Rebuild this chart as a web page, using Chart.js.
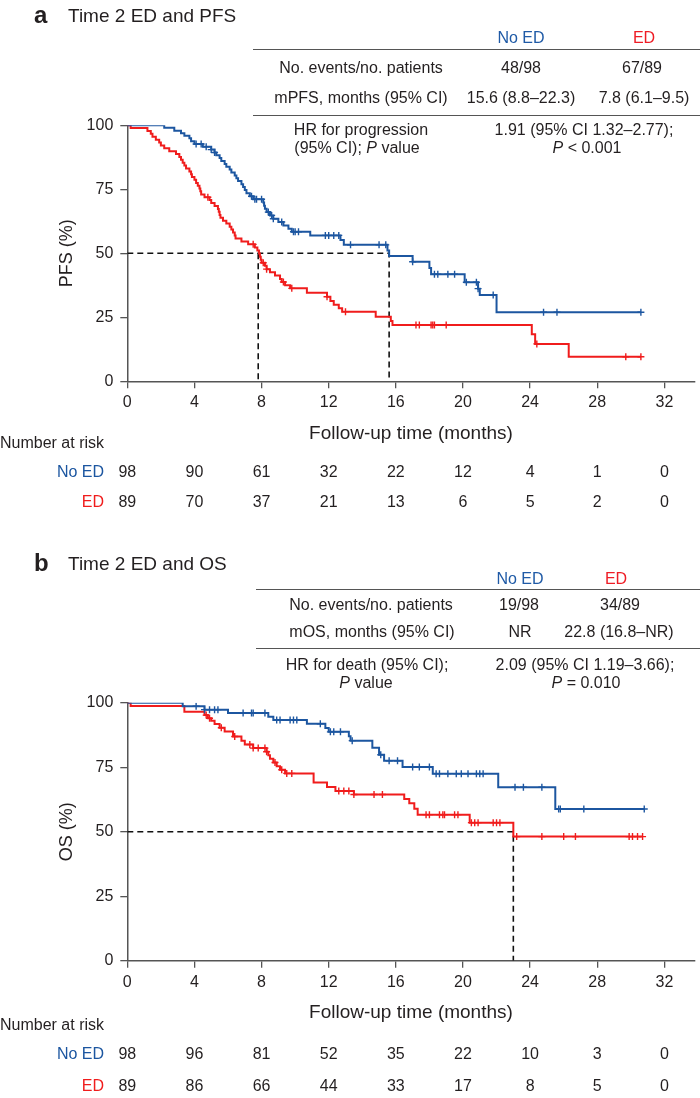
<!DOCTYPE html>
<html>
<head>
<meta charset="utf-8">
<script src="https://cdn.jsdelivr.net/npm/chart.js@4.4.1/dist/chart.umd.min.js"></script>
<style>
body { margin: 0; background: #fff; }
#page { position: relative; width: 700px; height: 1098px; overflow: hidden;
        font-family: 'Liberation Sans', Arial, sans-serif; color: #231f20; }
canvas { position: absolute; left: 0; }
.t { position: absolute; white-space: nowrap; font-size: 16px; line-height: 1; transform: translate(-50%, -50%); z-index: 2; }
.l { transform: translate(0, -50%); }
.head { font-size: 19px; }
.lab { font-size: 24px; font-weight: bold; }
.rule { position: absolute; height: 0; border-top: 1.5px solid #555; z-index: 2; }
.blue { color: #1f5aa6; }
.red { color: #ee1c25; }
</style>
</head>
<body>
<div id="page">
  <canvas id="pfsChart" width="700" height="540" style="top:0"></canvas>
  <canvas id="osChart" width="700" height="558" style="top:540px"></canvas>

  <!-- panel a -->
  <div class="t l lab" style="left:34px;top:15px">a</div>
  <div class="t l head" style="left:68px;top:15px">Time 2 ED and PFS</div>
  <div class="t blue" style="left:521px;top:38px">No ED</div>
  <div class="t red" style="left:644px;top:38px">ED</div>
  <div class="rule" style="left:253px;top:49px;width:447px"></div>
  <div class="t" style="left:361px;top:68px">No. events/no. patients</div>
  <div class="t" style="left:521px;top:68px">48/98</div>
  <div class="t" style="left:642px;top:68px">67/89</div>
  <div class="t" style="left:361px;top:98px">mPFS, months (95% CI)</div>
  <div class="t" style="left:521px;top:98px">15.6 (8.8–22.3)</div>
  <div class="t" style="left:644px;top:98px">7.8 (6.1–9.5)</div>
  <div class="rule" style="left:253px;top:115px;width:447px"></div>
  <div class="t" style="left:361px;top:130px">HR for progression</div>
  <div class="t" style="left:357px;top:148px">(95% CI); <i>P</i> value</div>
  <div class="t" style="left:584px;top:130px">1.91 (95% CI 1.32–2.77);</div>
  <div class="t" style="left:587px;top:148px"><i>P</i> &lt; 0.001</div>

  <!-- panel b -->
  <div class="t l lab" style="left:34px;top:563px">b</div>
  <div class="t l head" style="left:68px;top:563px">Time 2 ED and OS</div>
  <div class="t blue" style="left:520px;top:579px">No ED</div>
  <div class="t red" style="left:616px;top:579px">ED</div>
  <div class="rule" style="left:256px;top:589px;width:444px"></div>
  <div class="t" style="left:371px;top:605px">No. events/no. patients</div>
  <div class="t" style="left:519px;top:605px">19/98</div>
  <div class="t" style="left:620px;top:605px">34/89</div>
  <div class="t" style="left:372px;top:632px">mOS, months (95% CI)</div>
  <div class="t" style="left:520px;top:632px">NR</div>
  <div class="t" style="left:619px;top:632px">22.8 (16.8–NR)</div>
  <div class="rule" style="left:256px;top:648px;width:444px"></div>
  <div class="t" style="left:367px;top:665px">HR for death (95% CI);</div>
  <div class="t" style="left:366px;top:683px"><i>P</i> value</div>
  <div class="t" style="left:585px;top:665px">2.09 (95% CI 1.19–3.66);</div>
  <div class="t" style="left:586px;top:683px"><i>P</i> = 0.010</div>
</div>

<script>
// axes
var xTicks = [0, 4, 8, 12, 16, 20, 24, 28, 32];
var yTicks = [0, 25, 50, 75, 100];

// PFS, No ED: event times (months) and survival (%) after each step
var pfsNoEdTime = [0, 2.2, 2.8, 3.2, 3.4, 3.7, 3.8, 4.0, 4.5, 5.0, 5.2, 5.3, 5.5, 5.6, 5.8, 5.9, 6.1, 6.2, 6.4, 6.5,
  6.6, 6.8, 6.9, 7.0, 7.1, 7.3, 7.5, 8.1, 8.15, 8.2, 8.3, 8.5, 8.7, 9.0, 9.3, 9.6, 9.8, 10.9, 12.7, 12.9,
  15.5, 15.6, 17.0, 18.0, 18.1, 20.1, 20.9, 21.0, 22.0, 30.6];
var pfsNoEdSurv = [100, 99.0, 97.9, 96.9, 95.9, 94.9, 93.8, 92.7, 91.6, 90.5, 89.4, 88.3, 87.2, 86.1, 84.9, 83.8, 82.7, 81.6, 80.4, 79.3,
  78.2, 77.0, 75.9, 74.7, 73.5, 72.3, 71.1, 69.8, 68.6, 67.4, 66.1, 64.8, 63.5, 62.2, 60.9, 59.6, 58.4, 57.0, 55.2, 53.3,
  51.1, 48.9, 46.7, 44.3, 41.8, 38.7, 36.2, 33.7, 27.0, 27.0];
var pfsNoEdCensor = [4.1, 4.4, 4.7, 5.0, 5.2, 7.4, 7.6, 7.7, 8.0, 8.4, 8.6, 8.7, 9.2, 9.9, 10.0, 10.2, 11.8, 12.0, 12.3, 12.6,
  13.3, 15.0, 15.4, 17.0, 18.3, 18.5, 19.1, 19.5, 20.2, 20.8, 20.9, 21.8, 24.8, 25.6, 30.6];

// PFS, ED
var pfsEdTime = [0, 0.2, 1.2, 1.4, 1.5, 1.7, 1.9, 2.0, 2.2, 2.5, 2.9, 3.1, 3.2, 3.3, 3.4, 3.5, 3.7, 3.8, 3.85, 4.0,
  4.1, 4.2, 4.3, 4.35, 4.4, 4.6, 4.9, 5.0, 5.2, 5.4, 5.45, 5.5, 5.55, 5.7, 5.9, 6.1, 6.2, 6.3, 6.4, 6.45,
  6.8, 7.2, 7.6, 7.75, 7.85, 7.9, 7.95, 8.0, 8.2, 8.3, 8.5, 8.8, 9.1, 9.2, 9.4, 9.7, 10.7, 11.9, 12.1, 12.3,
  12.6, 12.8, 14.8, 15.7, 15.8, 24.1, 24.3, 26.3, 30.6];
var pfsEdSurv = [100, 98.9, 97.8, 96.7, 95.5, 94.4, 93.3, 92.1, 91.0, 89.9, 88.8, 87.6, 86.5, 85.4, 84.3, 83.1, 82.0, 80.9, 79.8, 78.7,
  77.5, 76.4, 75.3, 74.2, 73.0, 71.9, 70.8, 69.6, 68.5, 67.3, 66.2, 65.0, 63.9, 62.7, 61.6, 60.4, 59.3, 58.1, 57.0, 55.8,
  54.6, 53.5, 52.3, 51.1, 49.9, 48.7, 47.5, 46.3, 45.1, 43.8, 42.6, 41.3, 40.0, 38.8, 37.5, 36.3, 34.6, 33.0, 31.4, 29.9,
  28.5, 27.2, 25.2, 23.6, 22.0, 18.4, 14.6, 9.6, 9.6];
var pfsEdCensor = [4.8, 7.5, 8.1, 8.3, 9.3, 9.8, 11.9, 13.0, 17.2, 17.4, 18.1, 18.2, 18.3, 19.0, 24.4, 29.7, 30.6];

// OS, No ED
var osNoEdTime = [0, 3.3, 4.6, 6.0, 8.4, 8.7, 10.7, 11.8, 12.0, 13.2, 13.3, 14.6, 15.0, 15.3, 16.4, 18.2, 22.1, 25.5, 30.8];
var osNoEdSurv = [100, 98.6, 97.3, 96.0, 94.6, 93.3, 91.8, 90.2, 88.7, 87.0, 85.3, 82.5, 79.8, 77.5, 75.1, 72.5, 67.2, 58.8, 58.8];
var osNoEdCensor = [4.1, 4.6, 4.9, 5.2, 5.4, 6.9, 7.4, 7.5, 8.2, 8.9, 9.1, 9.7, 9.9, 10.1, 11.5, 12.1, 12.3, 12.7, 13.4, 15.1,
  15.6, 16.1, 17.0, 17.4, 18.0, 18.4, 18.6, 19.1, 19.6, 19.9, 20.3, 20.8, 21.0, 21.2, 23.1, 23.6, 24.7, 25.7, 25.8, 27.2, 30.8];

// OS, ED
var osEdTime = [0, 0.2, 3.4, 4.6, 4.8, 5.0, 5.2, 5.5, 5.8, 6.3, 6.8, 7.0, 7.5, 8.3, 8.4, 8.5, 8.7, 8.9, 9.1, 9.4,
  11.1, 11.9, 12.4, 13.5, 16.5, 16.8, 17.1, 17.3, 20.4, 23.0, 30.7];
var osEdSurv = [100, 98.7, 96.5, 95.2, 94.0, 93.0, 91.7, 90.3, 88.8, 86.9, 85.3, 83.8, 82.4, 81.0, 79.6, 78.3, 76.8, 75.4, 74.0, 72.6,
  69.1, 67.3, 65.8, 64.4, 62.7, 61.0, 58.9, 56.6, 53.5, 48.1, 48.1];
var osEdCensor = [4.7, 4.9, 5.6, 6.4, 7.3, 7.5, 7.8, 8.2, 8.3, 8.8, 9.2, 9.5, 9.8, 12.6, 12.9, 13.2, 13.5, 14.7, 15.2, 17.8,
  18.0, 18.6, 18.8, 18.9, 19.5, 19.7, 20.5, 20.7, 20.9, 21.8, 22.0, 22.2, 23.2, 24.7, 26.0, 26.7, 29.9, 30.1, 30.4, 30.7];

// medians (months) marked with dashed lines
var pfsMedians = [15.6, 7.8];
var osMedians = [23.0];

// number at risk, at each x tick
var riskLabels = ['No ED', 'ED'];
var pfsRiskNoEd = [98, 90, 61, 32, 22, 12, 4, 1, 0];
var pfsRiskEd = [89, 70, 37, 21, 13, 6, 5, 2, 0];
var osRiskNoEd = [98, 96, 81, 52, 35, 22, 10, 3, 0];
var osRiskEd = [89, 86, 66, 44, 33, 17, 8, 5, 0];

var BLUE = '#1c56a0';
var RED = '#f01c1c';
var INK = '#231f20';
var AXIS = '#555555';
var FONT = "'Liberation Sans', Arial, sans-serif";

function pts(times, surv) {
  return times.map(function (t, i) { return { x: t, y: surv[i] }; });
}

// survival level of the step curve at time t
function survAt(times, surv, t) {
  var s = surv[0];
  for (var i = 0; i < times.length; i++) {
    if (times[i] <= t) s = surv[i];
  }
  return s;
}

function censorPts(cens, times, surv) {
  return cens.map(function (t) { return { x: t, y: survAt(times, surv, t) }; });
}

function medianLines(meds) {
  return meds.map(function (m, i) {
    var d = [{ x: m, y: 50 }, { x: m, y: 0 }];
    if (i === 0) d.unshift({ x: 0, y: 50 });
    return {
      data: d, borderColor: '#111', borderWidth: 1.6, borderDash: [6, 4],
      pointRadius: 0, stepped: false, order: 3
    };
  });
}

var riskPlugin = {
  id: 'riskTable',
  afterDraw: function (chart, args, o) {
    var ctx = chart.ctx, xs = chart.scales.x, a = chart.chartArea;
    ctx.save();
    ctx.textBaseline = 'middle';
    ctx.fillStyle = INK;
    // y axis title
    ctx.save();
    ctx.translate(67, (a.top + a.bottom) / 2);
    ctx.rotate(-Math.PI / 2);
    ctx.textAlign = 'center';
    ctx.font = '18px ' + FONT;
    ctx.fillText(o.yTitle, 0, 0);
    ctx.restore();
    // x axis title
    ctx.textAlign = 'center';
    ctx.font = '19px ' + FONT;
    ctx.fillText('Follow-up time (months)', (a.left + a.right) / 2, a.bottom + o.offsets[0]);
    ctx.font = '16px ' + FONT;
    ctx.textAlign = 'left';
    ctx.fillText('Number at risk', 0, a.bottom + o.offsets[1]);
    o.rows.forEach(function (row, r) {
      var y = a.bottom + o.offsets[2 + r];
      ctx.textAlign = 'right';
      ctx.fillStyle = row.color;
      ctx.fillText(riskLabels[r], 104, y);
      ctx.textAlign = 'center';
      ctx.fillStyle = INK;
      xTicks.forEach(function (t, i) {
        ctx.fillText(String(row.values[i]), xs.getPixelForValue(t), y);
      });
    });
    ctx.restore();
  }
};

function makeKm(id, cfg) {
  var h = document.getElementById(id).height;
  return new Chart(document.getElementById(id), {
    type: 'line',
    data: {
      datasets: [
        { data: censorPts(cfg.noEdCensor, cfg.noEdTime, cfg.noEdSurv), showLine: false, pointStyle: 'cross',
          pointRadius: 3.5, borderColor: BLUE, pointBorderWidth: 1.4, order: 0 },
        { data: censorPts(cfg.edCensor, cfg.edTime, cfg.edSurv), showLine: false, pointStyle: 'cross',
          pointRadius: 3.5, borderColor: RED, pointBorderWidth: 1.4, order: 0 },
        { data: pts(cfg.noEdTime, cfg.noEdSurv), stepped: true, borderColor: BLUE, borderWidth: 2,
          pointRadius: 0, order: 1 },
        { data: pts(cfg.edTime, cfg.edSurv), stepped: true, borderColor: RED, borderWidth: 2,
          pointRadius: 0, order: 1 }
      ].concat(medianLines(cfg.medians))
    },
    options: {
      responsive: false,
      animation: false,
      layout: { padding: { top: cfg.top, right: 5, bottom: 0, left: 0 } },
      plugins: {
        legend: { display: false },
        tooltip: { enabled: false },
        riskTable: { yTitle: cfg.yTitle, offsets: cfg.offsets, rows: [
          { color: BLUE, values: cfg.riskNoEd },
          { color: RED, values: cfg.riskEd }
        ] }
      },
      scales: {
        x: {
          type: 'linear', min: 0, max: 33.8,
          afterBuildTicks: function (s) { s.ticks = xTicks.map(function (v) { return { value: v }; }); },
          afterFit: function (s) { s.height = h - cfg.bottom; },
          grid: { display: true, drawOnChartArea: false, drawTicks: true, tickLength: 7, color: AXIS, lineWidth: 1.3 },
          border: { display: true, color: AXIS, width: 1.5 },
          ticks: { color: INK, font: { family: FONT, size: 16 }, padding: 5, maxRotation: 0 }
        },
        y: {
          min: 0, max: 100,
          afterBuildTicks: function (s) { s.ticks = yTicks.map(function (v) { return { value: v }; }); },
          afterFit: function (s) { s.width = 127.3; },
          grid: { display: true, drawOnChartArea: false, drawTicks: true, tickLength: 7, color: AXIS, lineWidth: 1.3 },
          border: { display: true, color: AXIS, width: 1.5 },
          ticks: { color: INK, font: { family: FONT, size: 16 }, padding: 7 }
        }
      }
    },
    plugins: [riskPlugin]
  });
}

makeKm('pfsChart', {
  top: 125.3, bottom: 381.3, yTitle: 'PFS (%)', offsets: [52, 62, 91, 121],
  noEdTime: pfsNoEdTime, noEdSurv: pfsNoEdSurv, noEdCensor: pfsNoEdCensor,
  edTime: pfsEdTime, edSurv: pfsEdSurv, edCensor: pfsEdCensor,
  medians: pfsMedians, riskNoEd: pfsRiskNoEd, riskEd: pfsRiskEd
});

makeKm('osChart', {
  top: 162.7, bottom: 420.7, yTitle: 'OS (%)', offsets: [52, 65, 94, 126],
  noEdTime: osNoEdTime, noEdSurv: osNoEdSurv, noEdCensor: osNoEdCensor,
  edTime: osEdTime, edSurv: osEdSurv, edCensor: osEdCensor,
  medians: osMedians, riskNoEd: osRiskNoEd, riskEd: osRiskEd
});
</script>
</body>
</html>
